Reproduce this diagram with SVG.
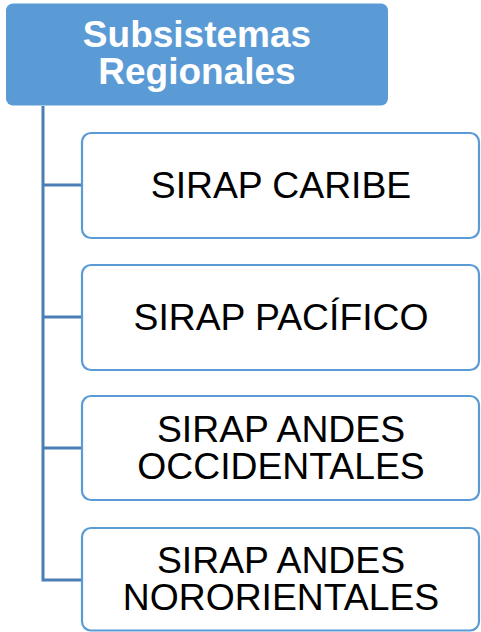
<svg xmlns="http://www.w3.org/2000/svg" width="481" height="632" viewBox="0 0 481 632">
<style>
.child{fill:#fff;stroke:#5b9bd5;stroke-width:2.2}
.ct{font-family:"Liberation Sans",Arial,sans-serif;font-size:37.3px;fill:#000;text-anchor:middle}
.tt{font-family:"Liberation Sans",Arial,sans-serif;font-size:37px;font-weight:bold;fill:#fff;text-anchor:middle}
.conn{fill:none;stroke:#4a7eb5;stroke-width:3}
</style>
<rect width="481" height="632" fill="#fff"/>
<g id="connectors">
<path class="conn" d="M43,106 V580 H82"/>
<path class="conn" d="M43,185 H82"/>
<path class="conn" d="M43,317 H82"/>
<path class="conn" d="M43,448 H82"/>
</g>
<g id="root">
<rect x="6" y="3.5" width="382" height="102" rx="7" fill="#5b9bd5"/>
<text class="tt" x="197" y="47">Subsistemas<tspan x="197" y="84">Regionales</tspan></text>
</g>
<g id="caribe">
<rect class="child" x="82" y="133" width="397" height="105" rx="9"/>
<text class="ct" x="281" y="198">SIRAP CARIBE</text>
</g>
<g id="pacifico">
<rect class="child" x="82" y="265" width="397" height="105" rx="9"/>
<text class="ct" x="281" y="330">SIRAP PACÍFICO</text>
</g>
<g id="occidentales">
<rect class="child" x="82" y="396" width="397" height="104" rx="9"/>
<text class="ct" x="281" y="442">SIRAP ANDES<tspan x="281" y="479">OCCIDENTALES</tspan></text>
</g>
<g id="nororientales">
<rect class="child" x="82" y="528" width="397" height="102.5" rx="9"/>
<text class="ct" x="281" y="573">SIRAP ANDES<tspan x="281" y="610">NORORIENTALES</tspan></text>
</g>
</svg>
